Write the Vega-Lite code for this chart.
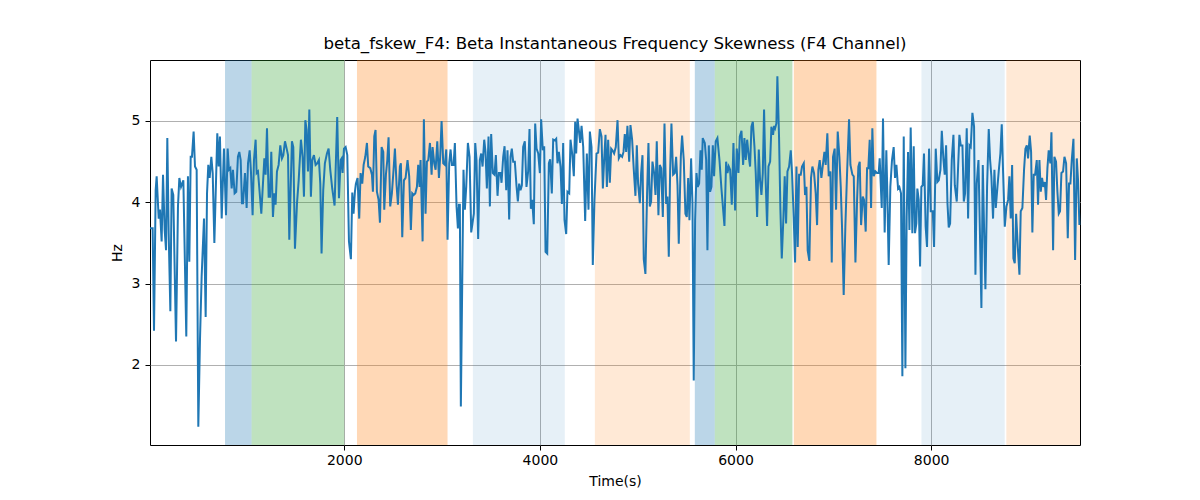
{
  "$schema": "https://vega.github.io/schema/vega-lite/v6.json",
  "autosize": {"type": "none"},
  "padding": {"left": 150, "top": 60, "right": 120, "bottom": 55},
  "width": 930,
  "height": 385,
  "background": "white",
  "title": {
    "text": "beta_fskew_F4: Beta Instantaneous Frequency Skewness (F4 Channel)",
    "font": "DejaVu Sans",
    "fontSize": 16.6,
    "fontWeight": "normal",
    "color": "black",
    "anchor": "middle",
    "baseline": "alphabetic",
    "offset": -6
  },
  "config": {
    "view": {"stroke": "black", "strokeWidth": 1},
    "axis": {
      "labelFont": "DejaVu Sans",
      "labelFontSize": 14,
      "labelColor": "black",
      "titleFont": "DejaVu Sans",
      "titleFontSize": 14,
      "titleFontWeight": "normal",
      "titleColor": "black",
      "tickColor": "black",
      "tickSize": 5,
      "domain": false,
      "grid": true,
      "gridColor": "#b0b0b0",
      "gridWidth": 1
    }
  },
  "datasets": {
    "bands": [
      {"start": 781, "end": 1053, "shade": "blue"},
      {"start": 1053, "end": 2000, "shade": "green"},
      {"start": 2130, "end": 3056, "shade": "orange"},
      {"start": 3315, "end": 4255, "shade": "lightblue"},
      {"start": 4562, "end": 5533, "shade": "lightorange"},
      {"start": 5584, "end": 5788, "shade": "blue"},
      {"start": 5788, "end": 6582, "shade": "green"},
      {"start": 6596, "end": 7441, "shade": "orange"},
      {"start": 7901, "end": 8752, "shade": "lightblue"},
      {"start": 8769, "end": 9522, "shade": "lightorange"}
    ],
    "signal": [
      {"t":14,"hz":3.68},{"t":41,"hz":3.68},{"t":55,"hz":2.42},{"t":72,"hz":4.15},{"t":82,"hz":4.32},{"t":103,"hz":3.8},{"t":116,"hz":3.91},{"t":133,"hz":3.52},{"t":147,"hz":4.34},{"t":164,"hz":3.66},{"t":178,"hz":3.41},{"t":191,"hz":4.79},{"t":205,"hz":3.62},{"t":222,"hz":2.66},{"t":235,"hz":4.17},{"t":252,"hz":4.09},{"t":280,"hz":2.29},{"t":300,"hz":3.95},{"t":314,"hz":4.3},{"t":331,"hz":4.19},{"t":355,"hz":4.27},{"t":385,"hz":2.35},{"t":402,"hz":4.32},{"t":416,"hz":3.27},{"t":430,"hz":4.56},{"t":443,"hz":4.56},{"t":460,"hz":4.87},{"t":474,"hz":4.44},{"t":491,"hz":4.4},{"t":508,"hz":1.24},{"t":525,"hz":2.31},{"t":542,"hz":3.09},{"t":566,"hz":3.8},{"t":583,"hz":2.59},{"t":597,"hz":4.11},{"t":610,"hz":4.46},{"t":624,"hz":4.3},{"t":641,"hz":4.56},{"t":655,"hz":4.36},{"t":672,"hz":3.5},{"t":702,"hz":4.85},{"t":716,"hz":4.44},{"t":729,"hz":4.81},{"t":747,"hz":3.8},{"t":770,"hz":4.66},{"t":791,"hz":3.84},{"t":808,"hz":4.66},{"t":821,"hz":4.4},{"t":835,"hz":4.42},{"t":849,"hz":4.17},{"t":862,"hz":4.4},{"t":879,"hz":4.11},{"t":896,"hz":4.13},{"t":913,"hz":4.56},{"t":927,"hz":4.62},{"t":941,"hz":4.52},{"t":954,"hz":3.99},{"t":965,"hz":3.99},{"t":985,"hz":4.36},{"t":1002,"hz":3.93},{"t":1016,"hz":4.48},{"t":1033,"hz":4.64},{"t":1046,"hz":4.38},{"t":1063,"hz":3.84},{"t":1077,"hz":4.52},{"t":1094,"hz":4.77},{"t":1104,"hz":4.36},{"t":1118,"hz":4.38},{"t":1152,"hz":3.86},{"t":1183,"hz":4.54},{"t":1196,"hz":4.34},{"t":1210,"hz":4.91},{"t":1227,"hz":4.07},{"t":1241,"hz":4.07},{"t":1254,"hz":4.62},{"t":1271,"hz":3.82},{"t":1285,"hz":4.11},{"t":1298,"hz":3.97},{"t":1312,"hz":4.38},{"t":1329,"hz":4.46},{"t":1346,"hz":4.7},{"t":1363,"hz":4.54},{"t":1377,"hz":4.58},{"t":1394,"hz":4.75},{"t":1411,"hz":4.66},{"t":1425,"hz":4.58},{"t":1438,"hz":3.54},{"t":1465,"hz":4.75},{"t":1479,"hz":4.68},{"t":1496,"hz":3.43},{"t":1517,"hz":3.99},{"t":1534,"hz":4.27},{"t":1557,"hz":4.77},{"t":1574,"hz":4.56},{"t":1588,"hz":4.07},{"t":1602,"hz":5.01},{"t":1615,"hz":4.89},{"t":1629,"hz":4.38},{"t":1643,"hz":5.14},
      {"t":1659,"hz":4.07},{"t":1673,"hz":4.52},{"t":1690,"hz":4.58},{"t":1707,"hz":4.46},{"t":1724,"hz":4.48},{"t":1741,"hz":4.52},{"t":1755,"hz":4.23},{"t":1768,"hz":3.37},{"t":1785,"hz":4.15},{"t":1802,"hz":4.48},{"t":1823,"hz":4.6},{"t":1840,"hz":4.66},{"t":1857,"hz":4.4},{"t":1877,"hz":4.17},{"t":1901,"hz":3.96},{"t":1928,"hz":5.05},{"t":1946,"hz":4.05},{"t":1963,"hz":4.52},{"t":1973,"hz":4.54},{"t":1983,"hz":4.36},{"t":1997,"hz":4.66},{"t":2014,"hz":4.68},{"t":2031,"hz":4.58},{"t":2048,"hz":3.52},{"t":2068,"hz":3.3},{"t":2082,"hz":4.12},{"t":2095,"hz":3.86},{"t":2109,"hz":4.13},{"t":2119,"hz":4.23},{"t":2136,"hz":4.3},{"t":2153,"hz":3.8},{"t":2167,"hz":4.36},{"t":2184,"hz":4.23},{"t":2198,"hz":4.46},{"t":2215,"hz":4.56},{"t":2232,"hz":4.73},{"t":2245,"hz":4.44},{"t":2266,"hz":4.42},{"t":2283,"hz":4.34},{"t":2293,"hz":4.13},{"t":2307,"hz":4.81},{"t":2320,"hz":4.89},{"t":2334,"hz":4.13},{"t":2351,"hz":4.03},{"t":2365,"hz":3.75},{"t":2382,"hz":4.68},{"t":2399,"hz":4.62},{"t":2409,"hz":3.91},{"t":2426,"hz":4.34},{"t":2440,"hz":4.52},{"t":2453,"hz":4.8},{"t":2470,"hz":3.95},{"t":2487,"hz":4.11},{"t":2504,"hz":4.4},{"t":2518,"hz":4.66},{"t":2535,"hz":4.21},{"t":2549,"hz":3.97},{"t":2569,"hz":4.44},{"t":2579,"hz":4.48},{"t":2593,"hz":3.57},{"t":2610,"hz":4.27},{"t":2627,"hz":4.3},{"t":2647,"hz":4.52},{"t":2664,"hz":4.32},{"t":2681,"hz":3.66},{"t":2695,"hz":4.11},{"t":2709,"hz":4.09},{"t":2726,"hz":4.11},{"t":2743,"hz":4.19},{"t":2756,"hz":4.46},{"t":2770,"hz":4.19},{"t":2780,"hz":4.52},{"t":2801,"hz":3.52},{"t":2814,"hz":5.02},{"t":2831,"hz":3.86},{"t":2845,"hz":4.5},{"t":2859,"hz":4.52},{"t":2876,"hz":4.73},{"t":2893,"hz":4.34},{"t":2903,"hz":4.68},{"t":2920,"hz":4.48},{"t":2934,"hz":4.4},{"t":2951,"hz":4.75},{"t":2968,"hz":4.3},{"t":2981,"hz":4.56},{"t":2995,"hz":5.0},{"t":3012,"hz":4.48},{"t":3029,"hz":4.46},{"t":3043,"hz":4.65},{"t":3056,"hz":3.54},{"t":3073,"hz":4.48},{"t":3087,"hz":4.65},{"t":3100,"hz":4.46},{"t":3118,"hz":4.46},{"t":3131,"hz":4.73},{"t":3148,"hz":3.95},{"t":3162,"hz":3.68},{"t":3172,"hz":3.97},{"t":3182,"hz":3.97},{"t":3192,"hz":1.49},
      {"t":3219,"hz":4.4},{"t":3233,"hz":3.91},{"t":3247,"hz":4.19},{"t":3264,"hz":4.73},{"t":3281,"hz":4.56},{"t":3298,"hz":3.63},{"t":3311,"hz":3.74},{"t":3325,"hz":3.86},{"t":3339,"hz":4.73},{"t":3352,"hz":4.52},{"t":3369,"hz":3.55},{"t":3386,"hz":4.52},{"t":3400,"hz":4.6},{"t":3414,"hz":4.44},{"t":3431,"hz":4.77},{"t":3444,"hz":4.62},{"t":3458,"hz":4.17},{"t":3475,"hz":4.81},{"t":3489,"hz":3.95},{"t":3502,"hz":4.84},{"t":3519,"hz":4.36},{"t":3536,"hz":4.34},{"t":3550,"hz":4.58},{"t":3567,"hz":4.08},{"t":3581,"hz":4.36},{"t":3598,"hz":4.36},{"t":3608,"hz":4.24},{"t":3625,"hz":4.56},{"t":3639,"hz":4.69},{"t":3656,"hz":4.15},{"t":3669,"hz":4.64},{"t":3686,"hz":3.79},{"t":3700,"hz":4.56},{"t":3713,"hz":4.66},{"t":3727,"hz":4.5},{"t":3744,"hz":4.5},{"t":3761,"hz":4.2},{"t":3775,"hz":4.01},{"t":3788,"hz":4.23},{"t":3802,"hz":4.15},{"t":3816,"hz":4.21},{"t":3829,"hz":4.68},{"t":3846,"hz":4.75},{"t":3863,"hz":4.19},{"t":3880,"hz":4.38},{"t":3894,"hz":4.9},{"t":3908,"hz":3.92},{"t":3921,"hz":4.03},{"t":3938,"hz":3.73},{"t":3952,"hz":4.97},{"t":3966,"hz":4.66},{"t":3983,"hz":4.6},{"t":4000,"hz":4.36},{"t":4013,"hz":5.02},{"t":4030,"hz":4.64},{"t":4044,"hz":4.69},{"t":4058,"hz":3.39},{"t":4075,"hz":3.37},{"t":4092,"hz":4.48},{"t":4105,"hz":4.53},{"t":4122,"hz":4.11},{"t":4136,"hz":4.77},{"t":4153,"hz":4.76},{"t":4167,"hz":4.78},{"t":4180,"hz":4.48},{"t":4194,"hz":4.62},{"t":4211,"hz":4.44},{"t":4225,"hz":3.98},{"t":4238,"hz":4.73},{"t":4252,"hz":3.78},{"t":4269,"hz":3.61},{"t":4282,"hz":4.13},{"t":4300,"hz":4.11},{"t":4313,"hz":4.77},{"t":4330,"hz":4.6},{"t":4347,"hz":4.32},{"t":4361,"hz":4.99},{"t":4371,"hz":4.6},{"t":4385,"hz":5.03},{"t":4398,"hz":4.89},{"t":4412,"hz":4.73},{"t":4426,"hz":4.94},{"t":4443,"hz":4.68},{"t":4463,"hz":3.77},{"t":4480,"hz":4.6},{"t":4497,"hz":3.91},{"t":4511,"hz":4.87},{"t":4528,"hz":4.68},{"t":4541,"hz":3.23},{"t":4558,"hz":4.03},{"t":4579,"hz":4.6},{"t":4596,"hz":4.61},{"t":4613,"hz":4.9},{"t":4630,"hz":4.81},{"t":4644,"hz":4.17},{"t":4657,"hz":4.52},{"t":4671,"hz":4.83},{"t":4685,"hz":4.19},{"t":4698,"hz":4.77},{"t":4715,"hz":4.24},{"t":4729,"hz":4.66},{"t":4742,"hz":4.64},{"t":4759,"hz":4.6},{"t":4776,"hz":4.68},{"t":4794,"hz":5.01},{"t":4807,"hz":4.54},
      {"t":4824,"hz":4.58},{"t":4841,"hz":4.56},{"t":4855,"hz":4.62},{"t":4868,"hz":4.84},{"t":4882,"hz":4.62},{"t":4895,"hz":4.94},{"t":4913,"hz":4.5},{"t":4926,"hz":4.95},{"t":4943,"hz":4.77},{"t":4960,"hz":4.4},{"t":4977,"hz":4.08},{"t":4991,"hz":4.7},{"t":5004,"hz":4.23},{"t":5022,"hz":3.99},{"t":5035,"hz":4.36},{"t":5049,"hz":4.58},{"t":5062,"hz":3.3},{"t":5079,"hz":3.12},{"t":5096,"hz":4.11},{"t":5110,"hz":4.73},{"t":5124,"hz":3.95},{"t":5137,"hz":4.01},{"t":5151,"hz":4.5},{"t":5168,"hz":4.36},{"t":5182,"hz":4.09},{"t":5195,"hz":4.75},{"t":5212,"hz":3.84},{"t":5226,"hz":4.46},{"t":5240,"hz":4.42},{"t":5257,"hz":3.82},{"t":5274,"hz":4.97},{"t":5291,"hz":3.98},{"t":5304,"hz":4.07},{"t":5318,"hz":3.33},{"t":5332,"hz":4.4},{"t":5345,"hz":4.97},{"t":5362,"hz":4.34},{"t":5379,"hz":4.36},{"t":5393,"hz":4.56},{"t":5407,"hz":4.21},{"t":5420,"hz":3.49},{"t":5441,"hz":4.56},{"t":5454,"hz":4.82},{"t":5471,"hz":4.52},{"t":5488,"hz":3.86},{"t":5502,"hz":3.82},{"t":5516,"hz":4.3},{"t":5529,"hz":3.78},{"t":5546,"hz":4.54},{"t":5560,"hz":3.99},{"t":5573,"hz":1.81},{"t":5587,"hz":3.78},{"t":5601,"hz":4.36},{"t":5614,"hz":4.19},{"t":5628,"hz":4.23},{"t":5642,"hz":4.64},{"t":5655,"hz":4.4},{"t":5665,"hz":4.79},{"t":5686,"hz":4.73},{"t":5700,"hz":4.52},{"t":5713,"hz":3.41},{"t":5727,"hz":4.7},{"t":5740,"hz":4.13},{"t":5754,"hz":4.19},{"t":5768,"hz":4.7},{"t":5781,"hz":4.32},{"t":5798,"hz":4.75},{"t":5815,"hz":4.79},{"t":5836,"hz":4.52},{"t":5856,"hz":4.17},{"t":5887,"hz":3.71},{"t":5904,"hz":4.5},{"t":5918,"hz":4.36},{"t":5931,"hz":4.44},{"t":5945,"hz":4.4},{"t":5962,"hz":3.97},{"t":5979,"hz":4.73},{"t":5996,"hz":3.9},{"t":6013,"hz":4.66},{"t":6030,"hz":4.36},{"t":6044,"hz":4.81},{"t":6061,"hz":4.88},{"t":6078,"hz":4.46},{"t":6091,"hz":4.79},{"t":6105,"hz":4.52},{"t":6119,"hz":4.77},{"t":6136,"hz":4.56},{"t":6149,"hz":4.44},{"t":6163,"hz":4.93},{"t":6177,"hz":4.99},{"t":6194,"hz":4.68},{"t":6207,"hz":4.36},{"t":6221,"hz":3.82},{"t":6238,"hz":4.65},{"t":6251,"hz":4.27},{"t":6265,"hz":4.09},{"t":6279,"hz":4.36},{"t":6292,"hz":5.14},{"t":6306,"hz":4.36},{"t":6323,"hz":3.71},{"t":6337,"hz":4.44},{"t":6354,"hz":4.5},{"t":6367,"hz":4.93},{"t":6384,"hz":4.83},{"t":6395,"hz":4.94},
      {"t":6405,"hz":4.91},{"t":6418,"hz":4.97},{"t":6428,"hz":5.55},{"t":6445,"hz":4.81},{"t":6459,"hz":3.91},{"t":6473,"hz":3.31},{"t":6490,"hz":3.82},{"t":6503,"hz":4.32},{"t":6517,"hz":3.74},{"t":6531,"hz":4.38},{"t":6548,"hz":4.44},{"t":6565,"hz":4.64},{"t":6578,"hz":4.36},{"t":6595,"hz":3.82},{"t":6609,"hz":3.26},{"t":6623,"hz":4.44},{"t":6636,"hz":3.45},{"t":6650,"hz":4.34},{"t":6667,"hz":4.34},{"t":6680,"hz":4.44},{"t":6698,"hz":4.48},{"t":6711,"hz":4.09},{"t":6725,"hz":4.19},{"t":6738,"hz":3.41},{"t":6755,"hz":3.28},{"t":6772,"hz":4.3},{"t":6786,"hz":4.44},{"t":6803,"hz":4.36},{"t":6820,"hz":4.11},{"t":6834,"hz":3.72},{"t":6847,"hz":4.4},{"t":6861,"hz":4.52},{"t":6878,"hz":4.3},{"t":6895,"hz":4.48},{"t":6909,"hz":4.62},{"t":6922,"hz":4.46},{"t":6939,"hz":4.85},{"t":6953,"hz":4.32},{"t":6970,"hz":4.38},{"t":6984,"hz":3.26},{"t":6997,"hz":4.56},{"t":7014,"hz":4.66},{"t":7028,"hz":3.91},{"t":7045,"hz":4.87},{"t":7062,"hz":4.56},{"t":7076,"hz":4.19},{"t":7089,"hz":3.7},{"t":7106,"hz":2.86},{"t":7123,"hz":3.7},{"t":7140,"hz":4.34},{"t":7161,"hz":5.02},{"t":7175,"hz":4.46},{"t":7195,"hz":4.34},{"t":7209,"hz":4.32},{"t":7226,"hz":3.26},{"t":7243,"hz":4.03},{"t":7256,"hz":4.44},{"t":7270,"hz":4.5},{"t":7284,"hz":3.72},{"t":7301,"hz":4.07},{"t":7314,"hz":4.03},{"t":7331,"hz":3.64},{"t":7345,"hz":4.42},{"t":7358,"hz":4.42},{"t":7372,"hz":4.77},{"t":7386,"hz":3.93},{"t":7399,"hz":4.91},{"t":7413,"hz":4.32},{"t":7430,"hz":4.38},{"t":7447,"hz":4.36},{"t":7464,"hz":4.36},{"t":7474,"hz":4.54},{"t":7495,"hz":3.93},{"t":7508,"hz":5.03},{"t":7525,"hz":3.63},{"t":7542,"hz":4.64},{"t":7553,"hz":4.07},{"t":7566,"hz":3.23},{"t":7583,"hz":4.19},{"t":7600,"hz":4.52},{"t":7617,"hz":4.68},{"t":7631,"hz":4.3},{"t":7645,"hz":4.46},{"t":7662,"hz":4.17},{"t":7675,"hz":4.19},{"t":7692,"hz":4.11},{"t":7706,"hz":1.86},{"t":7720,"hz":4.81},{"t":7737,"hz":1.96},{"t":7750,"hz":3.82},{"t":7764,"hz":4.62},{"t":7778,"hz":3.66},{"t":7791,"hz":4.92},{"t":7808,"hz":3.62},{"t":7822,"hz":4.69},{"t":7835,"hz":3.62},{"t":7849,"hz":3.74},{"t":7859,"hz":4.17},{"t":7873,"hz":4.03},{"t":7887,"hz":3.21},{"t":7900,"hz":4.19},{"t":7914,"hz":4.21},{"t":7927,"hz":4.6},{"t":7944,"hz":3.7},{"t":7958,"hz":3.45},
      {"t":7979,"hz":4.66},{"t":7996,"hz":3.89},{"t":8017,"hz":3.89},{"t":8030,"hz":3.45},{"t":8047,"hz":4.66},{"t":8064,"hz":4.25},{"t":8078,"hz":4.27},{"t":8095,"hz":4.4},{"t":8109,"hz":4.88},{"t":8126,"hz":4.52},{"t":8139,"hz":4.34},{"t":8153,"hz":4.7},{"t":8167,"hz":3.99},{"t":8180,"hz":3.69},{"t":8194,"hz":3.74},{"t":8211,"hz":4.52},{"t":8228,"hz":4.83},{"t":8242,"hz":4.21},{"t":8262,"hz":4.01},{"t":8276,"hz":4.44},{"t":8289,"hz":4.83},{"t":8303,"hz":4.7},{"t":8320,"hz":4.7},{"t":8334,"hz":4.01},{"t":8347,"hz":4.11},{"t":8364,"hz":4.91},{"t":8378,"hz":3.8},{"t":8392,"hz":4.7},{"t":8405,"hz":4.68},{"t":8422,"hz":5.1},{"t":8439,"hz":4.93},{"t":8453,"hz":3.11},{"t":8466,"hz":4.23},{"t":8484,"hz":4.52},{"t":8497,"hz":3.74},{"t":8514,"hz":2.7},{"t":8528,"hz":4.46},{"t":8541,"hz":3.7},{"t":8555,"hz":2.93},{"t":8572,"hz":4.19},{"t":8589,"hz":4.9},{"t":8603,"hz":4.52},{"t":8616,"hz":4.32},{"t":8633,"hz":3.8},{"t":8647,"hz":4.4},{"t":8661,"hz":3.93},{"t":8678,"hz":4.19},{"t":8691,"hz":4.38},{"t":8708,"hz":4.6},{"t":8722,"hz":4.96},{"t":8736,"hz":4.36},{"t":8753,"hz":3.7},{"t":8770,"hz":3.95},{"t":8787,"hz":4.03},{"t":8800,"hz":4.32},{"t":8814,"hz":3.8},{"t":8828,"hz":4.46},{"t":8841,"hz":3.31},{"t":8855,"hz":3.25},{"t":8869,"hz":3.86},{"t":8886,"hz":3.45},{"t":8903,"hz":3.11},{"t":8916,"hz":3.89},{"t":8933,"hz":3.93},{"t":8950,"hz":4.4},{"t":8964,"hz":4.66},{"t":8978,"hz":4.7},{"t":8991,"hz":4.54},{"t":9008,"hz":4.82},{"t":9022,"hz":4.62},{"t":9035,"hz":3.63},{"t":9049,"hz":4.34},{"t":9063,"hz":4.34},{"t":9080,"hz":4.52},{"t":9093,"hz":3.97},{"t":9107,"hz":4.52},{"t":9121,"hz":4.13},{"t":9134,"hz":4.3},{"t":9148,"hz":4.19},{"t":9162,"hz":4.25},{"t":9175,"hz":4.03},{"t":9189,"hz":4.42},{"t":9202,"hz":4.64},{"t":9219,"hz":4.48},{"t":9230,"hz":4.86},{"t":9247,"hz":3.41},{"t":9260,"hz":4.56},{"t":9277,"hz":4.5},{"t":9291,"hz":4.13},{"t":9305,"hz":3.86},{"t":9318,"hz":3.89},{"t":9332,"hz":4.36},{"t":9349,"hz":4.38},{"t":9363,"hz":4.56},{"t":9380,"hz":4.48},{"t":9397,"hz":3.56},{"t":9410,"hz":4.23},{"t":9424,"hz":4.23},{"t":9438,"hz":4.52},{"t":9455,"hz":4.78},{"t":9472,"hz":3.29},{"t":9489,"hz":4.54},{"t":9502,"hz":4.27},{"t":9516,"hz":3.72}
    ]
  },
  "encoding": {
    "x": {
      "type": "quantitative",
      "scale": {"domain": [14, 9522], "nice": false, "zero": false},
      "axis": {"title": "Time(s)", "values": [2000, 4000, 6000, 8000], "format": "d", "labelPadding": 3, "titlePadding": 7}
    }
  },
  "layer": [
    {
      "data": {"name": "bands"},
      "transform": [{"filter": "datum.shade == 'blue' || datum.shade == 'green' || datum.shade == 'orange'"}],
      "mark": {"type": "rect", "opacity": 0.3},
      "encoding": {
        "x": {"field": "start", "type": "quantitative", "title": "Time(s)"},
        "x2": {"field": "end"},
        "color": {
          "field": "shade",
          "type": "nominal",
          "legend": null,
          "scale": {
            "domain": ["blue", "green", "orange", "lightblue", "lightorange"],
            "range": ["#1f77b4", "#2ca02c", "#ff7f0e", "#1f77b4", "#ff7f0e"]
          }
        }
      }
    },
    {
      "data": {"name": "bands"},
      "transform": [{"filter": "datum.shade == 'lightblue'"}],
      "mark": {"type": "rect", "opacity": 0.11},
      "encoding": {
        "x": {"field": "start", "type": "quantitative", "title": "Time(s)"},
        "x2": {"field": "end"},
        "color": {"field": "shade", "type": "nominal", "legend": null}
      }
    },
    {
      "data": {"name": "bands"},
      "transform": [{"filter": "datum.shade == 'lightorange'"}],
      "mark": {"type": "rect", "opacity": 0.17},
      "encoding": {
        "x": {"field": "start", "type": "quantitative", "title": "Time(s)"},
        "x2": {"field": "end"},
        "color": {"field": "shade", "type": "nominal", "legend": null}
      }
    },
    {
      "data": {"name": "signal"},
      "mark": {"type": "line", "color": "#1f77b4", "strokeWidth": 2, "interpolate": "linear"},
      "encoding": {
        "x": {"field": "t", "type": "quantitative", "title": "Time(s)"},
        "y": {
          "field": "hz",
          "type": "quantitative",
          "scale": {"domain": [1.016, 5.75], "nice": false, "zero": false},
          "axis": {"title": "Hz", "values": [2, 3, 4, 5], "format": "d", "labelPadding": 5, "titlePadding": 7}
        }
      }
    }
  ]
}
